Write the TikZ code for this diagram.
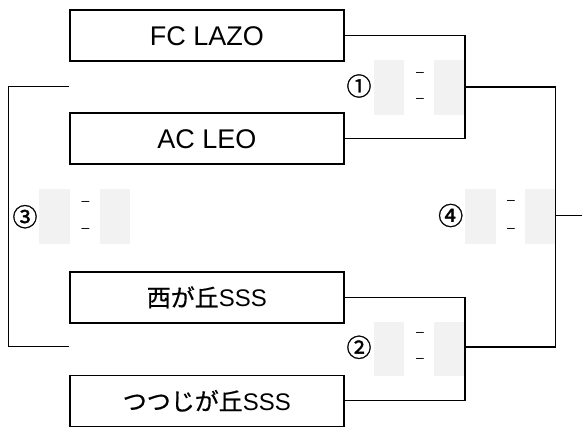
\documentclass[tikz,border=0pt]{standalone}
\usepackage{fontspec}
\setmainfont{Liberation Sans}
\newfontfamily\jp[FakeBold=0.6]{Noto Sans CJK JP}
\newfontfamily\jpnum[FakeBold=1.2]{Noto Sans CJK JP}
\definecolor{cellgray}{HTML}{F2F2F2}
\begin{document}
\begin{tikzpicture}[x=1pt,y=-1pt,
  team/.style={draw=black,line width=1.6pt,minimum width=274pt,minimum height=51pt,inner sep=0pt,anchor=north west},
  cell/.style={fill=cellgray,draw=none,minimum width=30.5pt,minimum height=54.5pt,inner sep=0pt,anchor=north west},
  wire/.style={draw=black,line width=1.3pt},
  num/.style={font=\jpnum\fontsize{25}{25}\selectfont,inner sep=0pt},
  dashmark/.style={font=\fontsize{14}{14}\selectfont,inner sep=0pt}]
\useasboundingbox (0,0) rectangle (582,428);
% team boxes
\node[team] (t1) at (69,9.5) {\fontsize{27}{27}\selectfont FC LAZO};
\node[team] (t2) at (69,112.5) {\fontsize{27}{27}\selectfont AC LEO};
\node[team] (t3) at (69,271) {{\jp\fontsize{24}{24}\selectfont 西が丘}\fontsize{24}{24}\selectfont SSS};
\node[team] (t4) at (69,374.5) {{\jp\fontsize{24}{24}\selectfont つつじが丘}\fontsize{24}{24}\selectfont SSS};
% score cells
\node[cell] (m1a) at (373.5,60.3) {};
\node[cell] (m1b) at (433.5,60.3) {};
\node[cell] (m2a) at (373.5,321.5) {};
\node[cell] (m2b) at (433.5,321.5) {};
\node[cell] (m3a) at (39,189) {};
\node[cell] (m3b) at (99.5,189) {};
\node[cell] (m4a) at (465,189) {};
\node[cell] (m4b) at (525,189) {};
% match numbers
\node[num] (n1) at (359,86) {①};
\node[num] (n2) at (359,347.3) {②};
\node[num] (n3) at (25,216.7) {③};
\node[num] (n4) at (450.7,215.5) {④};
% dashes
\node[dashmark] (d1a) at (420,74) {–};
\node[dashmark] (d1b) at (420,100) {–};
\node[dashmark] (d2a) at (420,334) {–};
\node[dashmark] (d2b) at (420,360) {–};
\node[dashmark] (d3a) at (85.5,203.3) {–};
\node[dashmark] (d3b) at (85.5,230.3) {–};
\node[dashmark] (d4a) at (511,202.7) {–};
\node[dashmark] (d4b) at (511,230) {–};
% junction coordinates
\coordinate (j1) at (465,87);
\coordinate (j2) at (465,347);
\coordinate (f) at (555.7,215.7);
\coordinate (out) at (582,215.7);
\coordinate (l1) at (69,86.7);
\coordinate (l2) at (69,346.7);
% connectors
\draw[wire] (t1.east) -| (j1) |- (t2.east);
\draw[wire] (t3.east) -| (j2) |- (t4.east);
\draw[wire] (j1) -| (f) |- (j2);
\draw[wire] (f) -- (out);
\draw[wire] (l1) -- (8.3,86.7) -- (8.3,346.7) -- (l2);
\end{tikzpicture}
\end{document}
